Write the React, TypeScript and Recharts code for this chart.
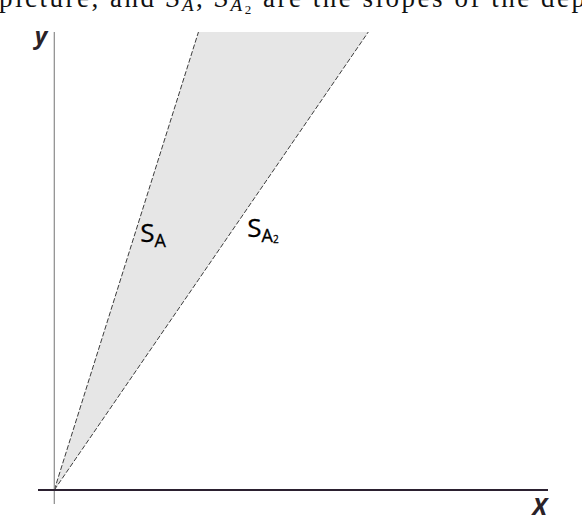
import {
  Area,
  ComposedChart,
  Line,
  ReferenceDot,
  ReferenceLine,
  XAxis,
  YAxis,
} from "recharts";

// x positions where the two boundary lines are sampled
const xValues = [0, 2.92, 6.36];
// steep boundary (S_A) - reaches the top of the frame at x = 2.92
const edgeA = [0, 10, null];
// shallow boundary (S_A2)
const edgeA2 = [0, 4.59, 10];
// upper edge of the shaded wedge (S_A, then clipped by the frame top)
const bandTop = [0, 10, 10];

const xDomain = [-0.33, 10];
const yDomain = [-0.306, 10];

const data = xValues.map((x, i) => ({
  x,
  edgeA: edgeA[i],
  edgeA2: edgeA2[i],
  band: [edgeA2[i], bandTop[i]],
}));

const lineColor = "#3c3c3c";
const labelFont = "'Open Sans', 'DejaVu Sans', sans-serif";

function SlopeLabel({ cx, cy, sub, tiny }: { cx?: number; cy?: number; sub: string; tiny?: string }) {
  if (cx == null || cy == null) return null;
  return (
    <text x={cx} y={cy} fontFamily={labelFont} fill="#000" fontSize={26} stroke="#000" strokeWidth={0.3}>
      S
      <tspan dy={5} fontSize={18}>
        {sub}
      </tspan>
      {tiny && (
        <tspan dy={1} fontSize={10}>
          {tiny}
        </tspan>
      )}
    </text>
  );
}

function AxisName({ cx, cy, name, dx, dy }: { cx?: number; cy?: number; name: string; dx: number; dy: number }) {
  if (cx == null || cy == null) return null;
  return (
    <text
      x={cx + dx}
      y={cy + dy}
      textAnchor="end"
      fontFamily={labelFont}
      fontStyle="italic"
      fontWeight="bold"
      fontSize={24}
      fill="#2a2228"
    >
      {name}
    </text>
  );
}

export default function App() {
  return (
    <div style={{ position: "absolute", left: 0, top: 0, width: 582, height: 518, background: "#fff", overflow: "hidden" }}>
      {/* cropped caption line from the source page */}
      <svg width={582} height={20} style={{ position: "absolute", left: 0, top: 0 }}>
        <text x={-1} y={7} fontFamily="'Liberation Serif', 'DejaVu Serif', serif" fontSize={27} fill="#111" textLength={586} lengthAdjust="spacing">
          picture, and <tspan fontStyle="italic">S</tspan>
          <tspan dy={4} fontSize={19} fontStyle="italic">A</tspan>
          <tspan dy={-4}>, </tspan>
          <tspan fontStyle="italic">S</tspan>
          <tspan dy={4} fontSize={19} fontStyle="italic">A</tspan>
          <tspan dy={3} fontSize={13}>2</tspan>
          <tspan dy={-7}> are the slopes of the dep</tspan>
        </text>
      </svg>
      <ComposedChart width={582} height={518} data={data} margin={{ top: 32, right: 34, bottom: 14, left: 38 }}>
        <XAxis type="number" dataKey="x" domain={xDomain} allowDataOverflow hide />
        <YAxis type="number" domain={yDomain} allowDataOverflow hide />
        <Area
          type="linear"
          dataKey="band"
          stroke="none"
          fill="#e6e6e6"
          fillOpacity={1}
          isAnimationActive={false}
        />
        <Line
          type="linear"
          dataKey="edgeA"
          stroke={lineColor}
          strokeWidth={1}
          strokeDasharray="5 2"
          dot={false}
          activeDot={false}
          isAnimationActive={false}
        />
        <Line
          type="linear"
          dataKey="edgeA2"
          stroke={lineColor}
          strokeWidth={1}
          strokeDasharray="5 2"
          dot={false}
          activeDot={false}
          isAnimationActive={false}
        />
        {/* coordinate axes */}
        <ReferenceLine x={0} stroke="#8a8a8a" strokeWidth={1.2} />
        <ReferenceLine y={0} stroke="#2b2030" strokeWidth={2} />
        {/* slope labels */}
        <ReferenceDot x={1.74} y={5.41} r={0} ifOverflow="visible" shape={(p: any) => <SlopeLabel cx={p.cx} cy={p.cy} sub="A" />} />
        <ReferenceDot x={3.91} y={5.52} r={0} ifOverflow="visible" shape={(p: any) => <SlopeLabel cx={p.cx} cy={p.cy} sub="A" tiny="2" />} />
        {/* axis names */}
        <ReferenceDot x={0} y={10} r={0} ifOverflow="visible" shape={(p: any) => <AxisName cx={p.cx} cy={p.cy} name="y" dx={-7} dy={12} />} />
        <ReferenceDot x={10} y={0} r={0} ifOverflow="visible" shape={(p: any) => <AxisName cx={p.cx} cy={p.cy} name="X" dx={-1} dy={25} />} />
      </ComposedChart>
    </div>
  );
}
